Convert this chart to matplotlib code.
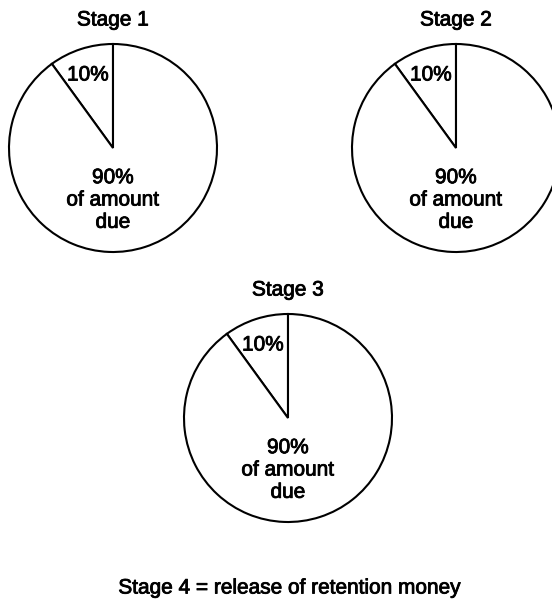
import matplotlib.pyplot as plt
import matplotlib.patheffects as pe

W, H = 552, 602

stages = ['Stage 1', 'Stage 2', 'Stage 3']
retention = [10, 10, 10]
paid = [90, 90, 90]
small_label = '10%'
big_label = '90%\nof amount\ndue'
footer = 'Stage 4 = release of retention money'

# pie centres in pixel coords (top-left origin)
centres = [(113, 148), (456, 148), (288, 418)]
radius = 104

plt.rcParams['font.family'] = ['Liberation Sans', 'DejaVu Sans']
# scanned print looks a bit heavier than plain regular weight
heavy = [pe.withStroke(linewidth=0.6, foreground='black')]

fig = plt.figure(figsize=(W / 100, H / 100), dpi=100)
ax = fig.add_axes([0, 0, 1, 1])

for name, r10, r90, (cx, cy) in zip(stages, retention, paid, centres):
    y = H - cy
    ax.pie([r10, r90], center=(cx, y), radius=radius, startangle=90,
           colors=['white', 'white'],
           wedgeprops={'edgecolor': 'black', 'linewidth': 1.5})
    ax.text(cx, y + 128, name, ha='center', va='center', fontsize=15,
            path_effects=heavy)
    ax.text(cx - 25, y + 73, small_label, ha='center', va='center',
            fontsize=15, path_effects=heavy)
    ax.text(cx, y - 52, big_label, ha='center', va='center', fontsize=15,
            linespacing=1.22, path_effects=heavy)

ax.text(290, H - 588, footer, ha='center', va='center', fontsize=15,
        path_effects=heavy)

ax.set_xlim(0, W)
ax.set_ylim(0, H)
ax.set_aspect('equal')
ax.axis('off')

fig.savefig('out.png', dpi=100, facecolor='white')
